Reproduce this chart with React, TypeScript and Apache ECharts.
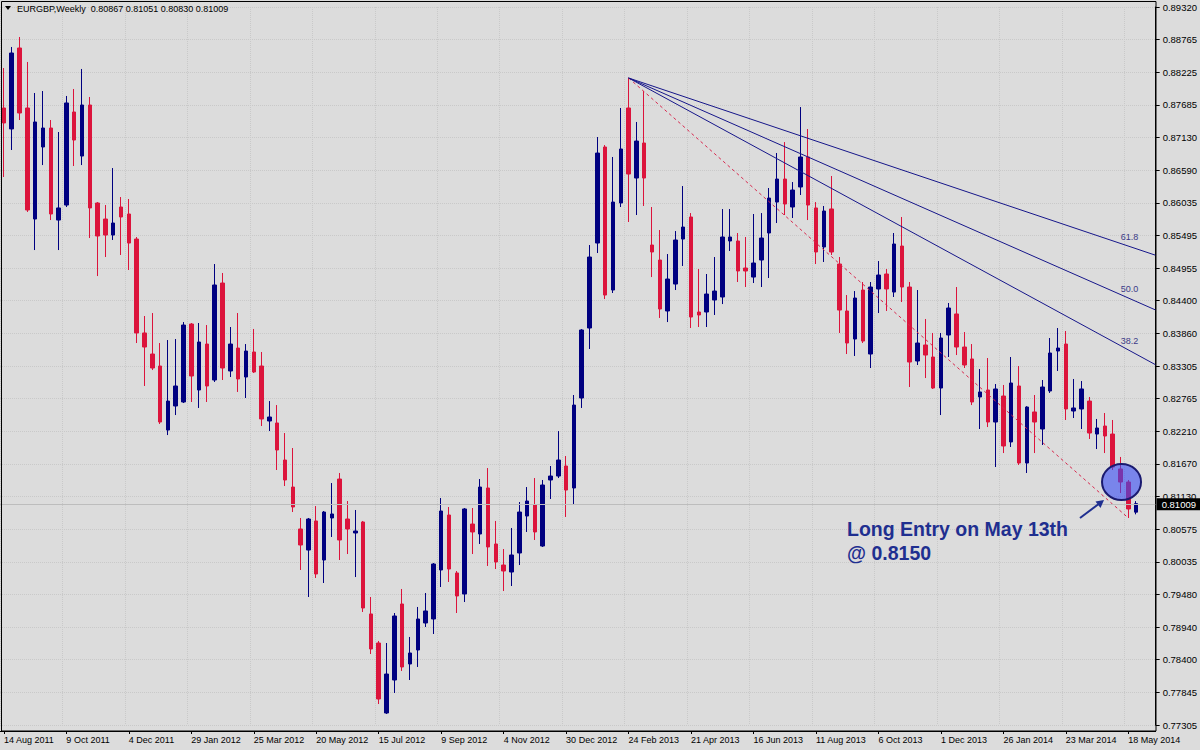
import React, { useEffect, useRef } from "react";
import * as echarts from "echarts";

// ---------- DATA ----------
const SYMBOL = "EURGBP,Weekly";
const START_UTC = Date.UTC(2011, 7, 14); // first weekly bar: 14 Aug 2011
const MONTHS = ["Jan", "Feb", "Mar", "Apr", "May", "Jun", "Jul", "Aug", "Sep", "Oct", "Nov", "Dec"];

const OPEN = [
  0.87630, 0.87279, 0.88634, 0.87630, 0.85772, 0.86977, 0.87295, 0.85755, 0.86006, 0.87563,
  0.86826, 0.87680, 0.86040, 0.85772, 0.85504, 0.85973, 0.85856, 0.85437, 0.83865, 0.83513,
  0.83312, 0.82241, 0.82643, 0.82710, 0.84015, 0.82911, 0.83680, 0.83078, 0.84701, 0.83229,
  0.83613, 0.83128, 0.83547, 0.83312, 0.82392, 0.82359, 0.81739, 0.81287, 0.80585, 0.80233,
  0.80719, 0.80066, 0.80769, 0.81421, 0.80752, 0.80518, 0.80702, 0.79163, 0.78677, 0.77506,
  0.78058, 0.79330, 0.78326, 0.78560, 0.79012, 0.79079, 0.79899, 0.80819, 0.79849, 0.79497,
  0.80668, 0.80501, 0.81271, 0.80334, 0.79982, 0.79865, 0.80183, 0.80802, 0.80986, 0.80300,
  0.81405, 0.81471, 0.81639, 0.81271, 0.82777, 0.83948, 0.85370, 0.86977, 0.84584, 0.86040,
  0.87630, 0.86458, 0.87044, 0.85337, 0.85086, 0.84233, 0.84684, 0.85437, 0.85806, 0.84216,
  0.84216, 0.84417, 0.84467, 0.85404, 0.85404, 0.84952, 0.84801, 0.85086, 0.85538, 0.86056,
  0.86441, 0.85973, 0.86308, 0.86810, 0.85957, 0.85304, 0.85940, 0.85019, 0.84233, 0.83764,
  0.84584, 0.83513, 0.84601, 0.84852, 0.84550, 0.85320, 0.84634, 0.83396, 0.83664, 0.83463,
  0.82944, 0.83831, 0.84183, 0.83630, 0.83430, 0.82794, 0.82911, 0.82375, 0.82810, 0.82041,
  0.82978, 0.81689, 0.82543, 0.82258, 0.82894, 0.83563, 0.83680, 0.82559, 0.82593, 0.82726,
  0.82174, 0.82308, 0.82174, 0.81589, 0.81371, 0.80867,
];
const HIGH = [
  0.88299, 0.88651, 0.88818, 0.88400, 0.87881, 0.87914, 0.87429, 0.87228, 0.87831, 0.87948,
  0.88283, 0.87814, 0.86056, 0.86006, 0.86625, 0.86140, 0.86107, 0.85471, 0.84149, 0.84199,
  0.83697, 0.83747, 0.83764, 0.84048, 0.84032, 0.84032, 0.83998, 0.85019, 0.84869, 0.83965,
  0.84199, 0.83680, 0.83932, 0.83547, 0.82726, 0.82659, 0.82191, 0.81940, 0.80769, 0.80769,
  0.80969, 0.80886, 0.81354, 0.81522, 0.81053, 0.80903, 0.80719, 0.79447, 0.78711, 0.78677,
  0.79179, 0.79581, 0.78778, 0.79280, 0.79514, 0.80016, 0.81103, 0.80953, 0.79882, 0.80936,
  0.80936, 0.81421, 0.81605, 0.80719, 0.80250, 0.80602, 0.81036, 0.81287, 0.81438, 0.81405,
  0.81639, 0.82224, 0.81806, 0.82827, 0.83930, 0.85337, 0.87144, 0.87010, 0.86810, 0.87630,
  0.88132, 0.87396, 0.87914, 0.85973, 0.85588, 0.85186, 0.85571, 0.86324, 0.85872, 0.84935,
  0.84852, 0.85136, 0.85939, 0.85939, 0.85538, 0.85471, 0.85856, 0.85872, 0.86291, 0.86877,
  0.87060, 0.86391, 0.87646, 0.87278, 0.86056, 0.85990, 0.86492, 0.85136, 0.84500, 0.84567,
  0.84718, 0.84718, 0.85069, 0.84935, 0.85538, 0.85806, 0.84718, 0.84584, 0.84099, 0.83865,
  0.83865, 0.84367, 0.84634, 0.83881, 0.83680, 0.83262, 0.83446, 0.83011, 0.82995, 0.83463,
  0.83312, 0.82640, 0.82827, 0.83078, 0.83781, 0.83948, 0.83898, 0.83095, 0.83061, 0.82794,
  0.82426, 0.82526, 0.82409, 0.81790, 0.81405, 0.81051,
];
const LOW = [
  0.86475, 0.86927, 0.87429, 0.85890, 0.85253, 0.86675, 0.85755, 0.85253, 0.85973, 0.86659,
  0.86675, 0.85454, 0.84818, 0.85136, 0.85421, 0.85170, 0.84919, 0.83697, 0.82978, 0.83245,
  0.82342, 0.82157, 0.82492, 0.82693, 0.82710, 0.82610, 0.82710, 0.83045, 0.83078, 0.83128,
  0.82878, 0.82777, 0.83195, 0.82308, 0.82224, 0.81572, 0.81304, 0.80869, 0.79899, 0.79447,
  0.79765, 0.79681, 0.80451, 0.80066, 0.80166, 0.79781, 0.79196, 0.78493, 0.77656, 0.77490,
  0.77841, 0.78209, 0.78058, 0.78276, 0.78945, 0.78828, 0.79614, 0.79698, 0.79179, 0.79363,
  0.80166, 0.80334, 0.79966, 0.79915, 0.79547, 0.79631, 0.79982, 0.80535, 0.80401, 0.80284,
  0.81087, 0.81438, 0.80786, 0.80986, 0.82610, 0.83597, 0.85203, 0.84433, 0.84534, 0.85973,
  0.85722, 0.85839, 0.85990, 0.84801, 0.84116, 0.84048, 0.84584, 0.84986, 0.83948, 0.83965,
  0.83965, 0.84166, 0.84349, 0.85237, 0.84718, 0.84634, 0.84701, 0.84634, 0.84785, 0.85705,
  0.85839, 0.85789, 0.86174, 0.85755, 0.85019, 0.85053, 0.85170, 0.83865, 0.83513, 0.83480,
  0.83697, 0.83279, 0.84199, 0.84233, 0.84467, 0.84383, 0.82961, 0.83329, 0.83111, 0.82928,
  0.82492, 0.83463, 0.83496, 0.83279, 0.82659, 0.82258, 0.82291, 0.81622, 0.81856, 0.81957,
  0.81656, 0.81522, 0.81856, 0.81990, 0.82861, 0.83229, 0.82409, 0.82442, 0.82258, 0.82091,
  0.81923, 0.81856, 0.81572, 0.81187, 0.80769, 0.80830,
];
const CLOSE = [
  0.87379, 0.88550, 0.87546, 0.85923, 0.87396, 0.87295, 0.85856, 0.85957, 0.87714, 0.87094,
  0.87680, 0.85957, 0.85488, 0.85504, 0.85705, 0.85806, 0.85370, 0.83865, 0.83630, 0.83279,
  0.82375, 0.82726, 0.82978, 0.83998, 0.83145, 0.83714, 0.82978, 0.84668, 0.83279, 0.83680,
  0.83095, 0.83563, 0.83212, 0.82426, 0.82459, 0.81907, 0.81405, 0.80953, 0.80317, 0.80752,
  0.79832, 0.80869, 0.80836, 0.80401, 0.80585, 0.80551, 0.79263, 0.78577, 0.77740, 0.78158,
  0.79129, 0.78276, 0.78510, 0.79079, 0.79213, 0.79999, 0.80886, 0.79915, 0.79464, 0.80920,
  0.80535, 0.81287, 0.80284, 0.80033, 0.79882, 0.80150, 0.80869, 0.81053, 0.80535, 0.81321,
  0.81471, 0.81739, 0.81237, 0.82659, 0.83915, 0.85136, 0.86876, 0.84500, 0.86056, 0.86944,
  0.86525, 0.87077, 0.86458, 0.85220, 0.84266, 0.84768, 0.85421, 0.85638, 0.84132, 0.84166,
  0.84517, 0.84567, 0.85471, 0.85471, 0.84902, 0.84902, 0.85036, 0.85454, 0.86123, 0.86441,
  0.86023, 0.86257, 0.86810, 0.86006, 0.85220, 0.85906, 0.85220, 0.84249, 0.83697, 0.84450,
  0.83730, 0.84634, 0.84835, 0.84601, 0.85354, 0.84634, 0.83379, 0.83697, 0.83496, 0.82944,
  0.83781, 0.84283, 0.83630, 0.83329, 0.82710, 0.82878, 0.82375, 0.82928, 0.81974, 0.83028,
  0.81689, 0.82626, 0.82375, 0.82961, 0.83530, 0.83613, 0.82593, 0.82610, 0.82928, 0.82191,
  0.82275, 0.82141, 0.81622, 0.81371, 0.80920, 0.81009,
];

const X_TICK_LABELS = [
  "14 Aug 2011", "9 Oct 2011", "4 Dec 2011", "29 Jan 2012", "25 Mar 2012", "20 May 2012",
  "15 Jul 2012", "9 Sep 2012", "4 Nov 2012", "30 Dec 2012", "24 Feb 2013", "21 Apr 2013",
  "16 Jun 2013", "11 Aug 2013", "6 Oct 2013", "1 Dec 2013", "26 Jan 2014", "23 Mar 2014",
  "18 May 2014",
];
const Y_TICK_LABELS = [
  "0.77305", "0.77845", "0.78400", "0.78940", "0.79480", "0.80035", "0.80575", "0.81130",
  "0.81670", "0.82210", "0.82765", "0.83305", "0.83860", "0.84400", "0.84955", "0.85495",
  "0.86035", "0.86590", "0.87130", "0.87685", "0.88225", "0.88765", "0.89320",
];
const Y_MIN = 0.77305;
const Y_MAX = 0.8932;

const FAN_FROM = 80; // swing high bar
const FAN_TO = 144; // swing low bar
const FAN_LEVELS = [38.2, 50.0, 61.8];

const ENTRY_BAR = 143;
const ENTRY_MARK_PRICE = 0.81371;
const NOTE_LINES = ["Long Entry on May 13th", "@ 0.8150"];

const LABEL_EVERY = 8;
const RIGHT_SHIFT_BARS = 2;

const CATEGORIES = Array.from({ length: OPEN.length + RIGHT_SHIFT_BARS }, (_, i) => {
  const d = new Date(START_UTC + i * 7 * 86400000);
  return `${d.getUTCDate()} ${MONTHS[d.getUTCMonth()]} ${d.getUTCFullYear()}`;
});

const CANDLES = OPEN.map((o, i) => [o, CLOSE[i], LOW[i], HIGH[i]]);

// ---------- STYLE ----------
const BG = "#dcdcdc";
const BULL = "#000080";
const BEAR = "#dc143c";
const FONT = '"Liberation Sans", Arial, sans-serif';

export default function App() {
  const ref = useRef<HTMLDivElement>(null);

  useEffect(() => {
    if (!ref.current) return;
    const chart = echarts.init(ref.current, undefined, { renderer: "svg" });
    const step = (Y_MAX - Y_MIN) / (Y_TICK_LABELS.length - 1);
    const last = OPEN.length - 1;
    const hi = HIGH[FAN_FROM];
    const lo = LOW[FAN_TO];

    chart.setOption({
      animation: false,
      backgroundColor: BG,
      grid: { left: 0, right: 44, top: 7, bottom: 25, containLabel: false },
      xAxis: {
        type: "category",
        data: CATEGORIES,
        boundaryGap: true,
        offset: 6,
        axisLine: { show: true, lineStyle: { color: "#000", width: 1 } },
        axisTick: {
          show: true,
          interval: LABEL_EVERY - 1,
          alignWithLabel: true,
          length: 3,
          lineStyle: { color: "#000" },
        },
        axisLabel: {
          interval: LABEL_EVERY - 1,
          align: "left",
          margin: 4,
          fontSize: 9,
          fontFamily: FONT,
          color: "#000",
          formatter: (_v: string, i: number) => X_TICK_LABELS[i / LABEL_EVERY] ?? "",
        },
        splitLine: {
          show: true,
          interval: LABEL_EVERY - 1,
          lineStyle: { color: "#c9c9c9", type: "dotted", width: 1 },
        },
      },
      yAxis: {
        type: "value",
        position: "right",
        min: Y_MIN,
        max: Y_MAX,
        interval: step,
        scale: true,
        axisLine: { show: true, lineStyle: { color: "#000", width: 1 } },
        axisTick: { show: true, length: 4, lineStyle: { color: "#000" } },
        axisLabel: {
          margin: 7,
          fontSize: 9.5,
          fontFamily: FONT,
          color: "#000",
          formatter: (v: number) => {
            const i = Math.round((v - Y_MIN) / step);
            return Math.abs(v - (Y_MIN + i * step)) < step * 0.05 ? Y_TICK_LABELS[i] ?? "" : "";
          },
        },
        splitLine: { show: true, lineStyle: { color: "#c9c9c9", type: "dotted", width: 1 } },
      },
      series: [
        {
          type: "candlestick",
          data: CANDLES,
          barWidth: 4,
          z: 2,
          itemStyle: {
            color: BULL,
            color0: BEAR,
            borderColor: BULL,
            borderColor0: BEAR,
            borderWidth: 1,
          },
          markLine: {
            silent: true,
            symbol: "none",
            animation: false,
            data: [{ yAxis: CLOSE[last] }],
            lineStyle: { color: "#bdbdbd", type: "solid", width: 1 },
            label: {
              show: true,
              position: "end",
              distance: 1,
              formatter: CLOSE[last].toFixed(5),
              backgroundColor: "#000",
              color: "#fff",
              padding: [1, 5, 1, 5],
              fontSize: 9.5,
              fontFamily: FONT,
            },
          },
        },
        {
          type: "custom",
          z: 3,
          silent: true,
          data: [[FAN_FROM, hi]],
          renderItem: (params: any, api: any) => {
            const p0 = api.coord([FAN_FROM, hi]);
            const p1 = api.coord([FAN_TO, lo]);
            const cs = params.coordSys;
            const xr = cs.x + cs.width;
            const children: any[] = [
              {
                type: "line",
                shape: { x1: p0[0], y1: p0[1], x2: p1[0], y2: p1[1] },
                style: { stroke: "#d8284e", lineWidth: 1, lineDash: [3, 3] },
              },
            ];
            FAN_LEVELS.forEach((lvl) => {
              const q = api.coord([FAN_TO, lo + (lvl / 100) * (hi - lo)]);
              const slope = (q[1] - p0[1]) / (q[0] - p0[0]);
              const yr = p0[1] + slope * (xr - p0[0]);
              children.push({
                type: "line",
                shape: { x1: p0[0], y1: p0[1], x2: xr, y2: yr },
                style: { stroke: "#16168a", lineWidth: 1 },
              });
              const xl = xr - 35;
              children.push({
                type: "text",
                style: {
                  text: lvl.toFixed(1),
                  x: xl,
                  y: p0[1] + slope * (xl + 9 - p0[0]) - 10,
                  fill: "#3b3b88",
                  font: `9px ${FONT}`,
                  verticalAlign: "middle",
                  align: "left",
                },
              });
            });
            return { type: "group", children };
          },
        },
        {
          type: "custom",
          z: 4,
          silent: true,
          data: [[ENTRY_BAR, ENTRY_MARK_PRICE]],
          renderItem: (_params: any, api: any) => {
            const c = api.coord([api.value(0), api.value(1)]);
            return {
              type: "ellipse",
              shape: { cx: c[0] + 1, cy: c[1], rx: 19.5, ry: 18 },
              style: { fill: "rgba(55,75,245,0.6)", stroke: "#1a1a70", lineWidth: 2 },
            };
          },
        },
      ],
      graphic: [
        {
          type: "rect",
          silent: true,
          z: 100,
          shape: { x: 1.5, y: 1.5, width: 1154.5, height: 729.5 },
          style: { fill: "none", stroke: "#000", lineWidth: 1 },
        },
        {
          type: "polygon",
          silent: true,
          z: 100,
          shape: { points: [[5, 6], [11, 6], [8, 10]] },
          style: { fill: "#000" },
        },
        {
          type: "text",
          silent: true,
          z: 100,
          left: 17,
          top: 4,
          style: {
            text: `${SYMBOL}  ${OPEN[last].toFixed(5)} ${HIGH[last].toFixed(5)} ${LOW[last].toFixed(5)} ${CLOSE[last].toFixed(5)}`,
            font: `9px ${FONT}`,
            fill: "#000",
          },
        },
        {
          type: "text",
          silent: true,
          z: 100,
          left: 847,
          top: 517,
          style: {
            text: NOTE_LINES.join("\n"),
            font: `bold 19.5px ${FONT}`,
            fill: "#1f2f90",
            lineHeight: 24,
          },
        },
        {
          type: "line",
          silent: true,
          z: 100,
          shape: { x1: 1080, y1: 518, x2: 1100, y2: 503 },
          style: { stroke: "#1f2f90", lineWidth: 2 },
        },
        {
          type: "polygon",
          silent: true,
          z: 100,
          shape: { points: [[1104, 500], [1095.5, 501.5], [1100.5, 508]] },
          style: { fill: "#1f2f90" },
        },
      ],
    });

    return () => chart.dispose();
  }, []);

  return (
    <div
      ref={ref}
      style={{ position: "absolute", left: 0, top: 0, width: 1200, height: 750, background: BG }}
    />
  );
}
